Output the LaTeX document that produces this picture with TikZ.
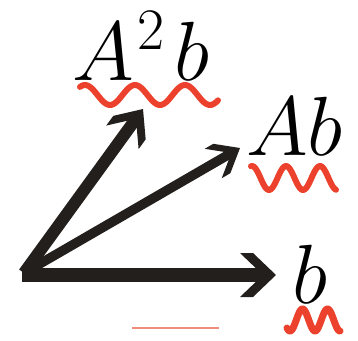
\RequirePackage{fix-cm}
\documentclass[tikz,border=0pt]{standalone}
\usetikzlibrary{calc}
\definecolor{ink}{RGB}{35,31,28}
\definecolor{wavered}{RGB}{236,66,45}
\definecolor{salmon}{RGB}{240,140,125}
\begin{document}
\begin{tikzpicture}[x=1pt,y=-1pt,
  shaft/.style={draw=ink, line cap=butt},
  head/.style={fill=ink},
  wavy/.style={draw=wavered, line width=6pt, line cap=round, line join=round},
  lbl/.style={inner sep=0pt, anchor=base west, font=\fontsize{84}{90}\selectfont}]
\useasboundingbox (0,0) rectangle (358,340);
% origins and tips
\coordinate (O)  at (24,273);
\coordinate (Ob) at (22,275);
\coordinate (t2) at (143,109);
\coordinate (t1) at (240,148);
\coordinate (t0) at (276,275);
% shafts
\draw[shaft, line width=14pt] (Ob) -- ($(t0)!13pt!(Ob)$);
\draw[shaft, line width=12pt] (O) -- ($(t2)!12pt!(O)$);
\draw[shaft, line width=9.5pt] (O) -- ($(t1)!10pt!(O)$);
% heads
\fill[head, shift={(t0)}, rotate=0] (0,0) -- (-23,22) -- (-36,22) -- (-13,0) -- (-36,-22) -- (-23,-22) -- cycle;
\fill[head, shift={(t2)}, rotate=54] (0,0) -- (-23,20) -- (-35,20) -- (-12,0) -- (-35,-20) -- (-23,-20) -- cycle;
\fill[head, shift={(t1)}, rotate=30.06] (0,0) -- (-21,17) -- (-31,17) -- (-10,0) -- (-31,-17) -- (-21,-17) -- cycle;
% labels
\node[lbl] (l2) at (72,80) {$A^{\kern0.04em 2}\kern0.12em b$};
\node[lbl] (l1) at (246,155) {$Ab$};
\node[lbl] (l0) at (292,303) {$b$};
% wavy underlines
\draw[wavy] plot[domain=80:218, samples=80] (\x, {95-10*cos(7.2*(\x-85))});
\draw[wavy] plot[domain=251:336, samples=80] (\x, {178-12*cos(10.588*(\x-252))});
\draw[wavy, line width=7pt] plot[domain=287:340, samples=80] (\x, {320+11*cos(14.4*(\x-340))});
% thin line
\coordinate (p1) at (132,328);
\coordinate (p2) at (219,328);
\draw[salmon, line width=1.5pt] (p1) -- (p2);
\end{tikzpicture}
\end{document}
